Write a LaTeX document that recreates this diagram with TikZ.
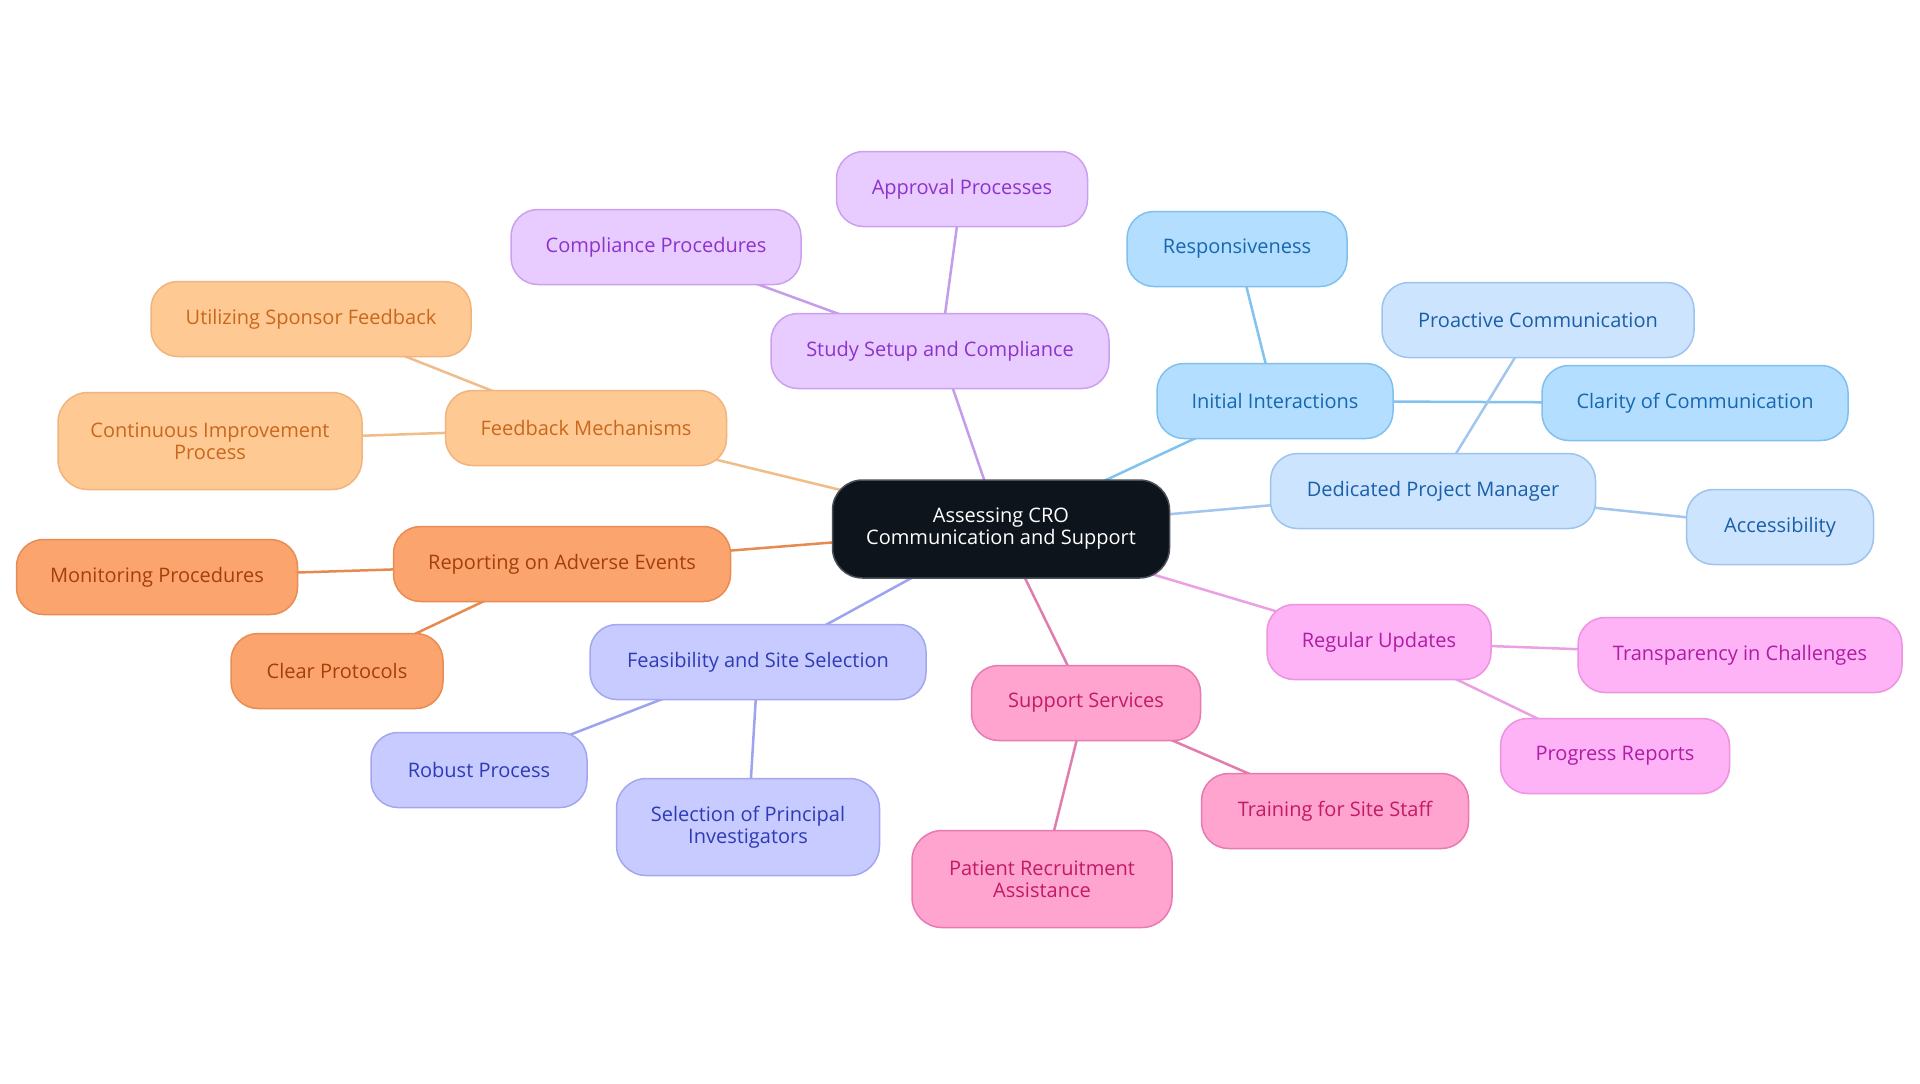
\documentclass[tikz,border=0pt]{standalone}
\usepackage{fontspec}
\setmainfont{Open Sans}
\pgfdeclarelayer{bg}
\pgfsetlayers{bg,main}
\definecolor{cfill}{HTML}{0D141C}\definecolor{cdraw}{HTML}{4A5058}
\definecolor{oaf}{HTML}{FFC994}\definecolor{oad}{HTML}{F0B47C}\definecolor{oat}{HTML}{C9681C}\definecolor{oae}{HTML}{F0BC88}
\definecolor{obf}{HTML}{FCA46E}\definecolor{obd}{HTML}{E88C54}\definecolor{obt}{HTML}{A53F08}\definecolor{obe}{HTML}{E68A50}
\definecolor{puf}{HTML}{E8CBFF}\definecolor{pud}{HTML}{CBA0F0}\definecolor{put}{HTML}{8C33CC}\definecolor{pue}{HTML}{C49CEC}
\definecolor{pef}{HTML}{C7CBFF}\definecolor{ped}{HTML}{A2A8F0}\definecolor{pet}{HTML}{2F3BB5}\definecolor{pee}{HTML}{9DA3EE}
\definecolor{pkf}{HTML}{FFA3CF}\definecolor{pkd}{HTML}{E87AB0}\definecolor{pkt}{HTML}{C21A66}\definecolor{pke}{HTML}{E07CAE}
\definecolor{mgf}{HTML}{FDB3F5}\definecolor{mgd}{HTML}{EE92E2}\definecolor{mgt}{HTML}{B01CA6}\definecolor{mge}{HTML}{EBA0E3}
\definecolor{blf}{HTML}{B3DEFF}\definecolor{bld}{HTML}{80C0EE}\definecolor{blt}{HTML}{1668B0}\definecolor{ble}{HTML}{82C2EE}
\definecolor{bpf}{HTML}{CCE4FD}\definecolor{bpd}{HTML}{9EC4EE}\definecolor{bpt}{HTML}{1A5FAA}\definecolor{bpe}{HTML}{A2C6EE}
\begin{document}
\begin{tikzpicture}[x=0.5pt,y=-0.5pt,
  box/.style={rounded corners=13.5pt, draw, line width=0.75pt, align=center, inner sep=2pt,
    minimum height=37.5pt, font=\fontsize{10}{11}\selectfont},
  two/.style={minimum height=48.5pt, rounded corners=15pt},
  oa/.style={box, fill=oaf, draw=oad, text=oat},
  ob/.style={box, fill=obf, draw=obd, text=obt},
  pu/.style={box, fill=puf, draw=pud, text=put},
  pe/.style={box, fill=pef, draw=ped, text=pet},
  pk/.style={box, fill=pkf, draw=pkd, text=pkt},
  mg/.style={box, fill=mgf, draw=mgd, text=mgt},
  bl/.style={box, fill=blf, draw=bld, text=blt},
  bp/.style={box, fill=bpf, draw=bpd, text=bpt},
  link/.style={line width=1.25pt}]
\useasboundingbox (0,0) rectangle (1920,1083);

\node[box, fill=cfill, draw=cdraw, text=white, minimum width=168.5pt, minimum height=49pt, rounded corners=15pt] (c) at (1001,529) {Assessing CRO\\Communication and Support};

\node[pu, minimum width=125.5pt] (appr) at (962,189) {Approval Processes};
\node[pu, minimum width=145pt] (comp) at (656,247) {Compliance Procedures};
\node[pu, minimum width=169pt] (study) at (940,351) {Study Setup and Compliance};

\node[oa, minimum width=160pt] (util) at (311,319) {Utilizing Sponsor Feedback};
\node[oa, minimum width=140.5pt] (feed) at (586,428) {Feedback Mechanisms};
\node[oa, two, minimum width=152pt] (cont) at (210,441) {Continuous Improvement\\Process};

\node[ob, minimum width=168.5pt] (rep) at (562,564) {Reporting on Adverse Events};
\node[ob, minimum width=140.5pt] (mon) at (157,577) {Monitoring Procedures};
\node[ob, minimum width=106pt] (clear) at (337,671) {Clear Protocols};

\node[pe, minimum width=168pt] (feas) at (758,662) {Feasibility and Site Selection};
\node[pe, minimum width=108pt] (rob) at (479,770) {Robust Process};
\node[pe, two, minimum width=131.5pt] (sel) at (748,827) {Selection of Principal\\Investigators};

\node[pk, minimum width=114.5pt] (supp) at (1086,703) {Support Services};
\node[pk, two, minimum width=130pt] (pat) at (1042,879) {Patient Recruitment\\Assistance};
\node[pk, minimum width=133.5pt] (train) at (1335,811) {Training for Site Staff};

\node[mg, minimum width=112pt] (reg) at (1379,642) {Regular Updates};
\node[mg, minimum width=162pt] (trans) at (1740,655) {Transparency in Challenges};
\node[mg, minimum width=114.5pt] (prog) at (1615,756) {Progress Reports};

\node[bl, minimum width=110pt] (resp) at (1237,249) {Responsiveness};
\node[bl, minimum width=118pt] (init) at (1275,401) {Initial Interactions};
\node[bl, minimum width=153pt] (clar) at (1695,403) {Clarity of Communication};

\node[bp, minimum width=156pt] (proa) at (1538,320) {Proactive Communication};
\node[bp, minimum width=162.5pt] (dpm) at (1433,491) {Dedicated Project Manager};
\node[bp, minimum width=93.5pt] (acc) at (1780,527) {Accessibility};

\begin{pgfonlayer}{bg}
\fill[white] (0,0) rectangle (1920,1083);
\draw[link, draw=oae] (c.center) -- (feed.center);
\draw[link, draw=oae] (feed.center) -- (util.center);
\draw[link, draw=oae] (feed.center) -- (cont.center);
\draw[link, draw=obe] (c.center) -- (rep.center);
\draw[link, draw=obe] (rep.center) -- (mon.center);
\draw[link, draw=obe] (rep.center) -- (clear.center);
\draw[link, draw=pue] (c.center) -- (study.center);
\draw[link, draw=pue] (study.center) -- (comp.center);
\draw[link, draw=pue] (study.center) -- (appr.center);
\draw[link, draw=pee] (c.center) -- (feas.center);
\draw[link, draw=pee] (feas.center) -- (rob.center);
\draw[link, draw=pee] (feas.center) -- (sel.center);
\draw[link, draw=pke] (c.center) -- (supp.center);
\draw[link, draw=pke] (supp.center) -- (pat.center);
\draw[link, draw=pke] (supp.center) -- (train.center);
\draw[link, draw=mge] (c.center) -- (reg.center);
\draw[link, draw=mge] (reg.center) -- (trans.center);
\draw[link, draw=mge] (reg.center) -- (prog.center);
\draw[link, draw=ble] (c.center) -- (init.center);
\draw[link, draw=ble] (init.center) -- (resp.center);
\draw[link, draw=ble] (init.center) -- (clar.center);
\draw[link, draw=bpe] (c.center) -- (dpm.center);
\draw[link, draw=bpe] (dpm.center) -- (proa.center);
\draw[link, draw=bpe] (dpm.center) -- (acc.center);
\end{pgfonlayer}
\end{tikzpicture}
\end{document}
